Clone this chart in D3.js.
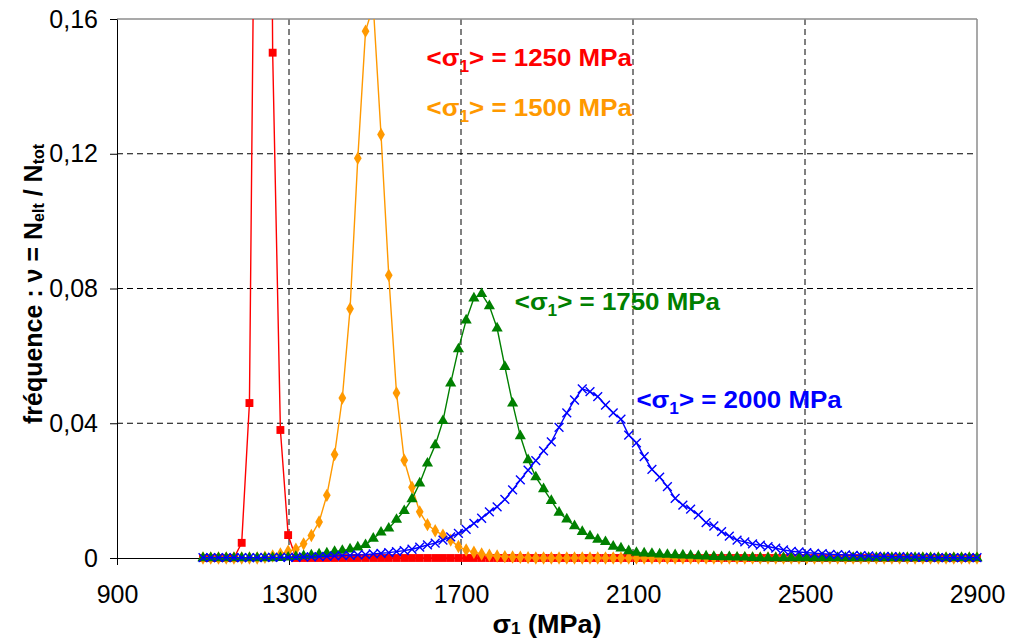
<!DOCTYPE html>
<html>
<head>
<meta charset="utf-8">
<script src="https://cdn.jsdelivr.net/npm/d3@7"></script>
<style>
  html, body { margin: 0; padding: 0; background: #fff; }
  svg { display: block; font-family: "Liberation Sans", Arial, sans-serif; }
</style>
</head>
<body>
<svg id="chart" width="1009" height="639"></svg>
<script>
// ---- data ----
const sigmaStart = 1100;   // first bin (MPa)
const sigmaStep = 18;      // bin width (MPa)
const xTicks = [900, 1300, 1700, 2100, 2500, 2900];
const yTicks = [0, 0.04, 0.08, 0.12, 0.16];

const mean1250 = [0,0,0,0,0,0.0045,0.046,0.29,0.50,0.150,0.038,0.0068,0,0,0,0,0,0,0,0,
  0,0,0,0,0,0,0,0,0,0,0,0,0,0,0,0,0,0,0,0,0,0,0,0,0,0,0,0,0,0,
  0,0,0,0,0,0,0,0,0,0,0,0,0,0,0,0,0,0,0,0,0,0,0,0,0,0,0,0,0,0,
  0,0,0,0,0,0,0,0,0,0,0,0,0,0,0,0,0,0,0,0,0];
const mean1500 = [0,0,0,0,0,0,0,0,0.0002,0.0006,0.0012,0.002,0.0026,0.0042,0.0067,0.0107,0.0186,0.0307,0.0475,0.074,
  0.1187,0.1564,0.164,0.1257,0.0839,0.049,0.029,0.021,0.0137,0.0099,0.0081,0.0068,0.0053,0.0034,0.0024,0.0017,0.0012,0.0008,0.0006,0.0004,
  0.0003,0.0002,0.0001,0,0,0,0,0,0,0,0,0,0,0,0,0,0,0,0,0,
  0,0,0,0,0,0,0,0,0,0,0,0,0,0,0,0,0,0,0,0,
  0,0,0,0,0,0,0,0,0,0,0,0,0,0,0,0,0,0,0,0,0];
const mean1750 = [0,0,0,0,0,0,0,0,0,0,0.0001,0.0002,0.0004,0.0006,0.0008,0.0011,0.0014,0.0019,0.0022,0.0026,
  0.0032,0.0039,0.0058,0.0076,0.0088,0.0114,0.014,0.0175,0.0222,0.0281,0.0335,0.0407,0.0519,0.062,0.0706,0.0771,0.0784,0.0748,0.0682,0.0568,
  0.0459,0.0362,0.0291,0.024,0.0205,0.017,0.0135,0.0115,0.0095,0.0078,0.0065,0.0055,0.0048,0.0034,0.0029,0.0021,0.0016,0.0014,0.0013,0.0011,
  0.001,0.0009,0.0008,0.0007,0.0006,0.0005,0.0004,0.0003,0.0003,0.0002,0.0002,0.0001,0,0,0,0,0,0,0,0,
  0,0,0,0,0,0,0,0,0,0,0,0,0,0,0,0,0,0,0,0,0];
const mean2000 = [0.0001,0.0001,0.0001,0.0001,0.0001,0.0001,0.0001,0.0001,0.0002,0.0002,0.0002,0.0002,0.0002,0.0003,0.0003,0.0004,0.0005,0.0006,0.0007,0.0008,
  0.0009,0.001,0.0012,0.0014,0.0016,0.0019,0.0022,0.0026,0.0032,0.0039,0.0044,0.0053,0.0063,0.0073,0.0085,0.0103,0.0118,0.0137,0.0152,0.0174,
  0.0202,0.0232,0.0261,0.0289,0.0318,0.0345,0.0388,0.0431,0.0469,0.0502,0.0494,0.0479,0.0454,0.0431,0.0412,0.0365,0.0342,0.0301,0.0263,0.024,
  0.0212,0.0177,0.0157,0.0145,0.0128,0.0105,0.0095,0.0078,0.0065,0.0053,0.0048,0.0042,0.0038,0.0034,0.0029,0.0024,0.002,0.0018,0.0016,0.0014,
  0.0013,0.0011,0.001,0.0009,0.0008,0.0007,0.0006,0.0005,0.0005,0.0004,0.0004,0.0003,0.0003,0.0002,0.0002,0.0001,0.0001,0.0001,0.0001,0.0001,0.0001];

const seriesNames = ["1250", "1500", "1750", "2000"];
const seriesColors = ["#FF0000", "#FF9900", "#008000", "#0000FF"];
const seriesMarkers = ["square", "diamond", "triangle", "cross"];
// label anchor positions in data space [sigma, frequency]
const labelAnchors = [[1620, 0.146], [1620, 0.1312], [1825, 0.0736], [2108, 0.0445]];

// ---- build ----
const seriesValues = [mean1250, mean1500, mean1750, mean2000];
const series = seriesNames.map((name, k) => ({
  name, color: seriesColors[k], marker: seriesMarkers[k],
  points: seriesValues[k].map((v, i) => ({ x: sigmaStart + i * sigmaStep, y: v }))
}));

const svg = d3.select("#chart");
const L = 117, R = 977, T = 19, B = 558;
const x = d3.scaleLinear().domain([900, 2900]).range([L, R]);
const y = d3.scaleLinear().domain([0, 0.16]).range([B, T]);

svg.append("defs").append("clipPath").attr("id", "clip")
  .append("rect").attr("x", L - 20).attr("y", T).attr("width", R - L + 40).attr("height", 639 - T);

// gridlines
const grid = svg.append("g");
grid.selectAll("line.h").data(yTicks.filter(d => d > 0 && d < 0.16)).join("line")
  .attr("x1", L).attr("x2", R).attr("y1", d => y(d)).attr("y2", d => y(d))
  .attr("stroke", "#000").attr("stroke-width", 1).attr("stroke-dasharray", "6,4");
grid.selectAll("line.v").data(xTicks.filter(d => d > 900 && d < 2900)).join("line")
  .attr("x1", d => x(d)).attr("x2", d => x(d)).attr("y1", T).attr("y2", B)
  .attr("stroke", "#000").attr("stroke-width", 1).attr("stroke-dasharray", "6,4");
// top and right border
svg.append("line").attr("x1", L).attr("x2", R).attr("y1", T).attr("y2", T)
  .attr("stroke", "#8c8c8c").attr("stroke-width", 1.5);
svg.append("line").attr("x1", R).attr("x2", R).attr("y1", T).attr("y2", B)
  .attr("stroke", "#8c8c8c").attr("stroke-width", 1.5);

// axes
const fmt = d => d === 0 ? "0" : d3.format(".2f")(d).replace(".", ",");
const yAxis = svg.append("g").attr("transform", `translate(${L},0)`)
  .call(d3.axisLeft(y).tickValues(yTicks).tickFormat(fmt).tickSize(7).tickSizeOuter(0).tickPadding(12));
const xAxis = svg.append("g").attr("transform", `translate(0,${B})`)
  .call(d3.axisBottom(x).tickValues(xTicks).tickFormat(d3.format("d")).tickSize(7).tickSizeOuter(0).tickPadding(20));
[yAxis, xAxis].forEach(a => {
  a.select(".domain").attr("stroke", "#000").attr("stroke-width", 1);
  a.selectAll(".tick line").attr("stroke", "#000");
  a.selectAll(".tick text").attr("fill", "#000").style("font-size", "25px")
    .style("font-family", '"Liberation Sans", Arial, sans-serif');
});
xAxis.select(".tick:last-of-type line").remove();

// series
const plot = svg.append("g").attr("clip-path", "url(#clip)");
const line = d3.line().x(d => x(d.x)).y(d => y(d.y));
const sym = {
  square: d3.symbol(d3.symbolSquare, 62),
  diamond: d3.symbol(d3.symbolDiamond, 52),
  triangle: d3.symbol(d3.symbolTriangle, 54),
  cross: d3.symbol(d3.symbolX, 52)
};
series.forEach(s => {
  const g = plot.append("g");
  g.append("path").attr("d", line(s.points)).attr("fill", "none")
    .attr("stroke", s.color).attr("stroke-width", 1.4);
  const m = g.selectAll("path.m").data(s.points).join("path").attr("class", "m")
    .attr("transform", d => `translate(${x(d.x)},${y(d.y)})`)
    .attr("d", sym[s.marker]());
  if (s.marker === "cross") m.attr("fill", "none").attr("stroke", s.color).attr("stroke-width", 1.4);
  else m.attr("fill", s.color).attr("stroke", "none");
});

// series labels
series.forEach((s, k) => {
  const [lx, ly] = labelAnchors[k];
  const t = svg.append("text")
    .attr("transform", `translate(${x(lx)},${y(ly)}) scale(1.08,1)`)
    .attr("fill", s.color).style("font-size", "24px").style("font-weight", "bold");
  t.append("tspan").text("<σ");
  t.append("tspan").text("1").style("font-size", "16px").attr("dy", 6);
  t.append("tspan").text(`> = ${s.name} MPa`).attr("dy", -6);
});

// axis titles
const xt = svg.append("text").attr("transform", `translate(${(L + R) / 2},633) scale(1.08,1)`)
  .attr("text-anchor", "middle").style("font-size", "25px").style("font-weight", "bold").attr("fill", "#000");
xt.append("tspan").text("σ");
xt.append("tspan").text("1").style("font-size", "16px").attr("dy", 1);
xt.append("tspan").text(" (MPa)").attr("dy", -1);

const yt = svg.append("text").attr("transform", `translate(42,284) rotate(-90)`)
  .attr("text-anchor", "middle").style("font-size", "25px").style("font-weight", "bold").attr("fill", "#000");
yt.append("tspan").text("fréquence : ν = N");
yt.append("tspan").text("elt").style("font-size", "16px").attr("dy", 2);
yt.append("tspan").text(" / N").attr("dy", -2);
yt.append("tspan").text("tot").style("font-size", "16px").attr("dy", 2);
</script>
</body>
</html>
